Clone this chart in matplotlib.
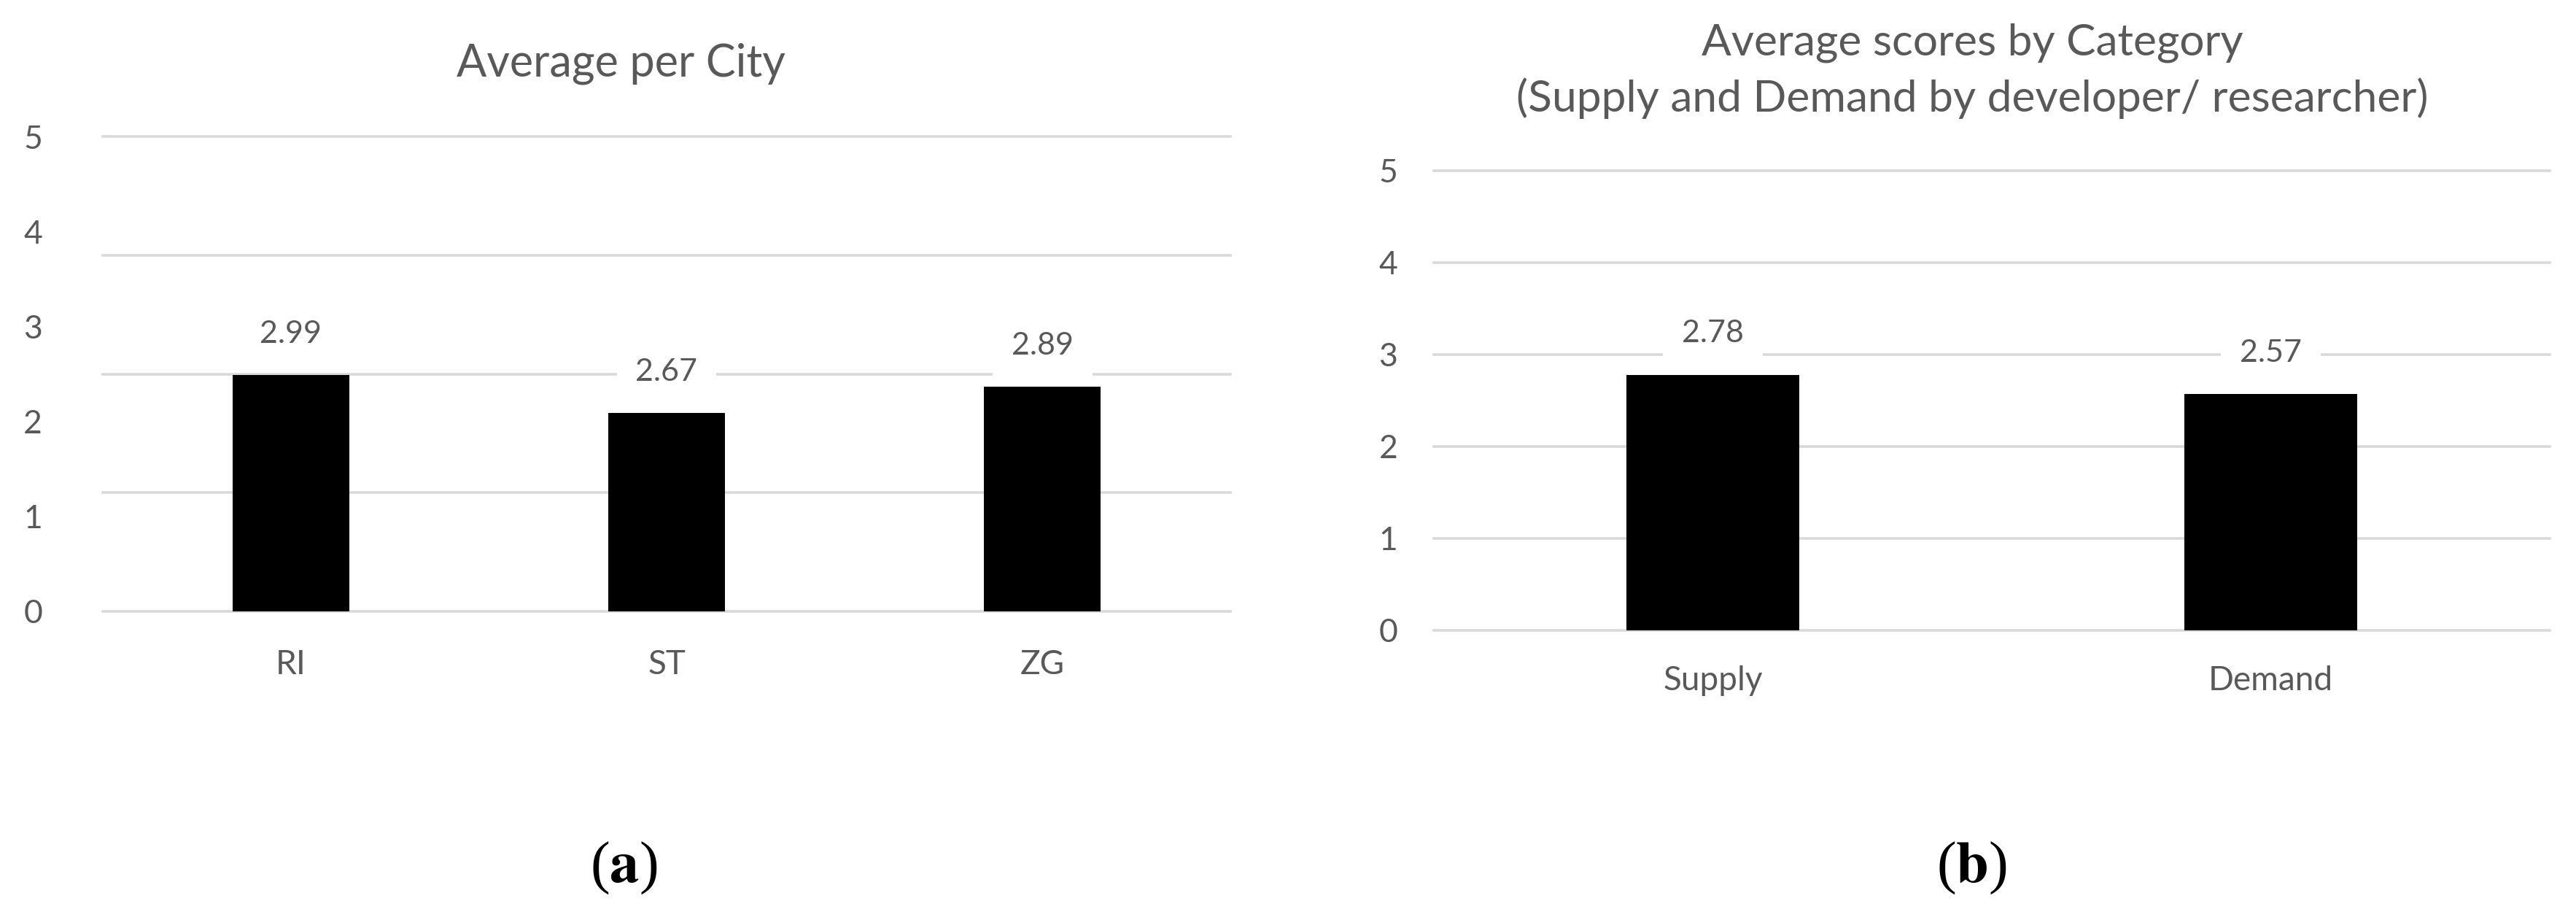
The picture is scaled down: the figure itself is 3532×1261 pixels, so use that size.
import numpy as np
import matplotlib
matplotlib.use('Agg')
import matplotlib.pyplot as plt

plt.rcParams['font.family'] = ['Lato', 'DejaVu Sans']
plt.rcParams['mathtext.fontset'] = 'stix'

# (a) average per city  (the axis really starts at 1, labels 0..5 are spread over it)
cities = ['RI', 'ST', 'ZG']
city_avg = [2.99, 2.67, 2.89]
city_grid = [1, 2, 3, 4, 5]
city_tick_labels = ['0', '1', '2', '3', '4', '5']

# (b) average per category
categories = ['Supply', 'Demand']
cat_avg = [2.78, 2.57]
cat_grid = [0, 1, 2, 3, 4, 5]

GREY = '#595959'
GRID = '#d9d9d9'
W, H, DPI = 3532, 1261, 100


def px_axes(fig, x0, x1, ytop, ybot):
    # axes rectangle from pixel coords of the target picture
    return fig.add_axes([x0 / W, 1 - ybot / H, (x1 - x0) / W, (ybot - ytop) / H])


def style(ax, grid, ypad, xpad):
    for s in ax.spines.values():
        s.set_visible(False)
    for g in grid:
        ax.axhline(g, color=GRID, lw=2.6, zorder=0, clip_on=False)
    ax.tick_params(length=0, colors=GREY)
    ax.tick_params(axis='y', labelsize=32, pad=ypad)
    ax.tick_params(axis='x', labelsize=33, pad=xpad)
    for t in ax.get_yticklabels():
        t.set_horizontalalignment('center')
    for t in ax.get_xticklabels():
        t.set_verticalalignment('baseline')


def add_values(ax, x, vals):
    for xi, v in zip(x, vals):
        ax.annotate('{:.2f}'.format(v), (xi, v), xytext=(0, 32), textcoords='offset points',
                    ha='center', va='baseline', fontsize=31, color=GREY, zorder=3,
                    bbox=dict(boxstyle='square,pad=0.6', fc='white', ec='none'))


fig = plt.figure(figsize=(W / DPI, H / DPI), dpi=DPI)

# left chart
ax1 = px_axes(fig, 141, 1687, 187, 838)
x1 = np.arange(len(cities))
ax1.bar(x1, city_avg, width=0.31, color='black', zorder=2)
ax1.set_xlim(-0.5, len(cities) - 0.5)
ax1.set_ylim(min(city_grid), max(city_grid))
ax1.set_yticks(np.linspace(min(city_grid), max(city_grid), len(city_tick_labels)))
ax1.set_yticklabels(city_tick_labels)
ax1.set_xticks(x1)
ax1.set_xticklabels(cities)
style(ax1, city_grid, ypad=69, xpad=62)
add_values(ax1, x1, city_avg)

# right chart
ax2 = px_axes(fig, 1966, 3496, 234, 864)
x2 = np.arange(len(categories))
ax2.bar(x2, cat_avg, width=0.31, color='black', zorder=2)
ax2.set_xlim(-0.5, len(categories) - 0.5)
ax2.set_ylim(min(cat_grid), max(cat_grid))
ax2.set_yticks(cat_grid)
ax2.set_xticks(x2)
ax2.set_xticklabels(categories)
style(ax2, cat_grid, ypad=45, xpad=59)
add_values(ax2, x2, cat_avg)

# titles
fig.text(851 / W, 1 - 105 / H, 'Average per City', ha='center', va='baseline',
         fontsize=44, color=GREY)
fig.text(2704 / W, 1 - 75 / H, 'Average scores by Category', ha='center', va='baseline',
         fontsize=43.5, color=GREY)
fig.text(2704 / W, 1 - 153 / H, '(Supply and Demand by developer/ researcher)',
         ha='center', va='baseline', fontsize=43.5, color=GREY)

# panel letters
for xc, letter in [(855, 'a'), (2703, 'b')]:
    fig.text(xc / W, 1 - 1190 / H, '(' + r'$\mathbf{' + letter + '}$' + ')',
             ha='center', va='center', fontsize=58, family='Liberation Serif')

fig.savefig('out.png', dpi=DPI, facecolor='white')
